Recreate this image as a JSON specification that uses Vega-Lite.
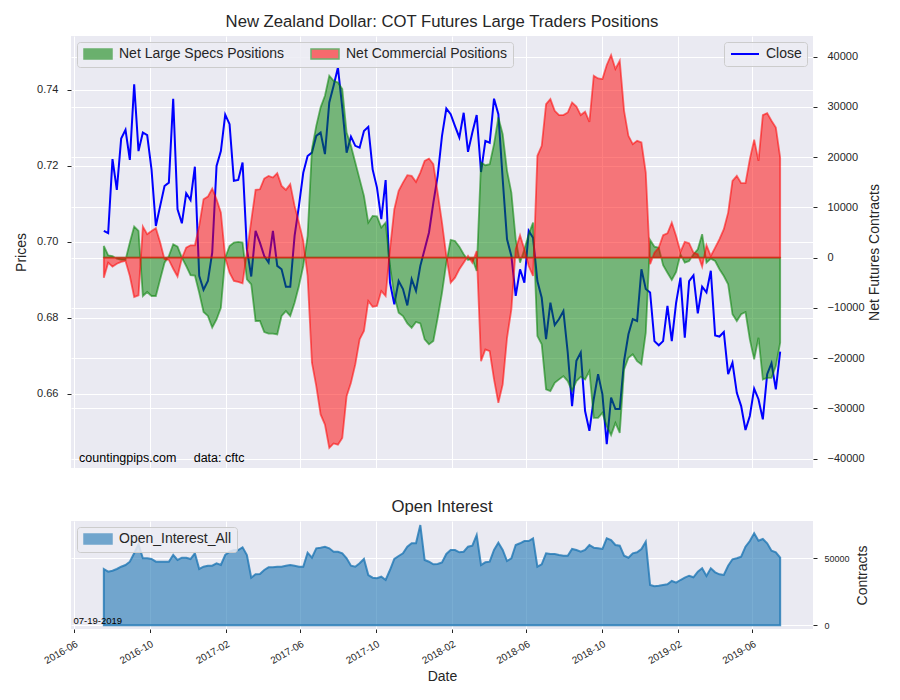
{
  "$schema": "https://vega.github.io/schema/vega-lite/v6.json",
  "background": "white",
  "padding": {"left": 14, "top": 14, "right": 10, "bottom": 10},
  "config": {
    "font": "Liberation Sans",
    "view": {"fill": "#EAEAF2", "stroke": null},
    "axis": {
      "domain": false,
      "gridColor": "#FFFFFF",
      "gridWidth": 1,
      "gridOpacity": 1,
      "tickColor": "#262626",
      "tickSize": 4,
      "labelColor": "#262626",
      "titleColor": "#262626",
      "titleFontWeight": "normal",
      "titleFontSize": 14,
      "labelFontSize": 11,
      "labelOverlap": false
    },
    "legend": {
      "title": null,
      "padding": 5,
      "fillColor": "rgba(236,236,243,0.85)",
      "strokeColor": "#cccccc",
      "cornerRadius": 3,
      "labelFontSize": 14,
      "labelColor": "#262626",
      "labelLimit": 400,
      "symbolSize": 100,
      "symbolOffset": 9,
      "labelOffset": 14
    },
    "title": {"color": "#262626", "fontWeight": "normal"}
  },
  "data": {
    "values": [
      {"date": "2016-07-19", "close": 0.7029, "specs": 2330, "comm": -3980, "oi": 41830},
      {"date": "2016-07-26", "close": 0.7023, "specs": 470, "comm": -1000, "oi": 39820},
      {"date": "2016-08-02", "close": 0.7218, "specs": 330, "comm": -1790, "oi": 40570},
      {"date": "2016-08-09", "close": 0.7137, "specs": -200, "comm": -1200, "oi": 41830},
      {"date": "2016-08-16", "close": 0.7272, "specs": -460, "comm": -860, "oi": 43540},
      {"date": "2016-08-23", "close": 0.7295, "specs": -460, "comm": -660, "oi": 44800},
      {"date": "2016-08-30", "close": 0.7216, "specs": 3000, "comm": -3650, "oi": 47260},
      {"date": "2016-09-06", "close": 0.7415, "specs": 6180, "comm": -7830, "oi": 53500},
      {"date": "2016-09-13", "close": 0.7239, "specs": 5320, "comm": -7500, "oi": 60180},
      {"date": "2016-09-20", "close": 0.7288, "specs": -7630, "comm": 6180, "oi": 49780},
      {"date": "2016-09-27", "close": 0.7281, "specs": -6830, "comm": 4660, "oi": 49780},
      {"date": "2016-10-04", "close": 0.7191, "specs": -7630, "comm": 5320, "oi": 49260},
      {"date": "2016-10-11", "close": 0.7042, "specs": -7630, "comm": 5850, "oi": 47260},
      {"date": "2016-10-18", "close": 0.7095, "specs": -4310, "comm": 3000, "oi": 47260},
      {"date": "2016-10-25", "close": 0.7147, "specs": -1000, "comm": -330, "oi": 47260},
      {"date": "2016-11-01", "close": 0.7156, "specs": 330, "comm": -460, "oi": 47260},
      {"date": "2016-11-08", "close": 0.7377, "specs": 2670, "comm": -2200, "oi": 52230},
      {"date": "2016-11-15", "close": 0.7086, "specs": 2200, "comm": -3760, "oi": 48520},
      {"date": "2016-11-22", "close": 0.7049, "specs": 0, "comm": -130, "oi": 50230},
      {"date": "2016-11-29", "close": 0.7128, "specs": -1660, "comm": 2000, "oi": 50230},
      {"date": "2016-12-06", "close": 0.711, "specs": -3500, "comm": 2460, "oi": 49260},
      {"date": "2016-12-13", "close": 0.7198, "specs": -3570, "comm": 2460, "oi": 53500},
      {"date": "2016-12-20", "close": 0.6911, "specs": -6970, "comm": 6310, "oi": 41830},
      {"date": "2016-12-27", "close": 0.6874, "specs": -10800, "comm": 11630, "oi": 43540},
      {"date": "2017-01-03", "close": 0.6897, "specs": -11600, "comm": 12150, "oi": 44280},
      {"date": "2017-01-10", "close": 0.6972, "specs": -13900, "comm": 13740, "oi": 44280},
      {"date": "2017-01-17", "close": 0.72, "specs": -12300, "comm": 11630, "oi": 46070},
      {"date": "2017-01-24", "close": 0.7239, "specs": -9960, "comm": 8960, "oi": 44800},
      {"date": "2017-01-31", "close": 0.7335, "specs": 0, "comm": 0, "oi": 52230},
      {"date": "2017-02-07", "close": 0.731, "specs": 2330, "comm": -2990, "oi": 54690},
      {"date": "2017-02-14", "close": 0.7161, "specs": 3000, "comm": -4640, "oi": 55950},
      {"date": "2017-02-21", "close": 0.7163, "specs": 3130, "comm": -4840, "oi": 55950},
      {"date": "2017-02-28", "close": 0.7209, "specs": 3000, "comm": -5100, "oi": 57950},
      {"date": "2017-03-07", "close": 0.6981, "specs": -4310, "comm": 1000, "oi": 52230},
      {"date": "2017-03-14", "close": 0.6909, "specs": -5300, "comm": 7310, "oi": 35370},
      {"date": "2017-03-21", "close": 0.7029, "specs": -12600, "comm": 13490, "oi": 37890},
      {"date": "2017-03-28", "close": 0.6998, "specs": -12600, "comm": 13600, "oi": 38120},
      {"date": "2017-04-04", "close": 0.6963, "specs": -14800, "comm": 15740, "oi": 41090},
      {"date": "2017-04-11", "close": 0.6946, "specs": -15100, "comm": 16270, "oi": 43090},
      {"date": "2017-04-18", "close": 0.7029, "specs": -15100, "comm": 15940, "oi": 43090},
      {"date": "2017-04-25", "close": 0.6937, "specs": -15260, "comm": 16800, "oi": 43540},
      {"date": "2017-05-02", "close": 0.6928, "specs": -11600, "comm": 14280, "oi": 43540},
      {"date": "2017-05-09", "close": 0.6882, "specs": -10620, "comm": 13480, "oi": 44280},
      {"date": "2017-05-16", "close": 0.6882, "specs": -11600, "comm": 14620, "oi": 44800},
      {"date": "2017-05-23", "close": 0.7016, "specs": -8960, "comm": 10300, "oi": 44280},
      {"date": "2017-05-30", "close": 0.7095, "specs": -5640, "comm": 6970, "oi": 43540},
      {"date": "2017-06-06", "close": 0.7182, "specs": -1660, "comm": 3330, "oi": 43540},
      {"date": "2017-06-13", "close": 0.7226, "specs": 4320, "comm": -3650, "oi": 53940},
      {"date": "2017-06-20", "close": 0.7235, "specs": 21600, "comm": -20900, "oi": 50230},
      {"date": "2017-06-27", "close": 0.7279, "specs": 26230, "comm": -25560, "oi": 57210},
      {"date": "2017-07-04", "close": 0.7288, "specs": 29900, "comm": -31200, "oi": 57660},
      {"date": "2017-07-11", "close": 0.7231, "specs": 32200, "comm": -33200, "oi": 58400},
      {"date": "2017-07-18", "close": 0.7367, "specs": 36200, "comm": -37850, "oi": 57210},
      {"date": "2017-07-25", "close": 0.7411, "specs": 35200, "comm": -36970, "oi": 54690},
      {"date": "2017-08-01", "close": 0.7459, "specs": 34860, "comm": -37200, "oi": 54690},
      {"date": "2017-08-08", "close": 0.7353, "specs": 33540, "comm": -35860, "oi": 53500},
      {"date": "2017-08-15", "close": 0.7235, "specs": 24900, "comm": -27550, "oi": 49780},
      {"date": "2017-08-22", "close": 0.7277, "specs": 22250, "comm": -24900, "oi": 44280},
      {"date": "2017-08-29", "close": 0.7253, "specs": 18920, "comm": -21240, "oi": 43540},
      {"date": "2017-09-05", "close": 0.7248, "specs": 15620, "comm": -16260, "oi": 46070},
      {"date": "2017-09-12", "close": 0.7292, "specs": 12290, "comm": -14600, "oi": 49260},
      {"date": "2017-09-19", "close": 0.7303, "specs": 6970, "comm": -8630, "oi": 37370},
      {"date": "2017-09-26", "close": 0.7191, "specs": 8300, "comm": -9760, "oi": 35370},
      {"date": "2017-10-03", "close": 0.7143, "specs": 8200, "comm": -9630, "oi": 34920},
      {"date": "2017-10-10", "close": 0.706, "specs": 5980, "comm": -6640, "oi": 36110},
      {"date": "2017-10-17", "close": 0.7163, "specs": 6970, "comm": -7630, "oi": 33660},
      {"date": "2017-10-24", "close": 0.6893, "specs": -1660, "comm": 1670, "oi": 41090},
      {"date": "2017-10-31", "close": 0.6836, "specs": -7630, "comm": 9640, "oi": 49260},
      {"date": "2017-11-07", "close": 0.6897, "specs": -10960, "comm": 13280, "oi": 51490},
      {"date": "2017-11-14", "close": 0.6876, "specs": -11620, "comm": 14940, "oi": 53500},
      {"date": "2017-11-21", "close": 0.6833, "specs": -13070, "comm": 16400, "oi": 58400},
      {"date": "2017-11-28", "close": 0.6902, "specs": -13950, "comm": 16270, "oi": 60930},
      {"date": "2017-12-05", "close": 0.6871, "specs": -12800, "comm": 15080, "oi": 60930},
      {"date": "2017-12-12", "close": 0.6937, "specs": -13070, "comm": 16930, "oi": 74520},
      {"date": "2017-12-19", "close": 0.6981, "specs": -16260, "comm": 19260, "oi": 48520},
      {"date": "2017-12-26", "close": 0.7025, "specs": -17250, "comm": 19720, "oi": 47260},
      {"date": "2018-01-02", "close": 0.7103, "specs": -16600, "comm": 18600, "oi": 45320},
      {"date": "2018-01-09", "close": 0.7174, "specs": -12000, "comm": 12950, "oi": 45570},
      {"date": "2018-01-16", "close": 0.7279, "specs": -7000, "comm": 6970, "oi": 46700},
      {"date": "2018-01-23", "close": 0.7351, "specs": -1000, "comm": 330, "oi": 53000},
      {"date": "2018-01-30", "close": 0.7336, "specs": 3520, "comm": -4980, "oi": 55950},
      {"date": "2018-02-06", "close": 0.7305, "specs": 3320, "comm": -3980, "oi": 55950},
      {"date": "2018-02-13", "close": 0.7275, "specs": 2190, "comm": -2310, "oi": 54240},
      {"date": "2018-02-20", "close": 0.734, "specs": 670, "comm": -1000, "oi": 54690},
      {"date": "2018-02-27", "close": 0.7237, "specs": -460, "comm": 330, "oi": 58400},
      {"date": "2018-03-06", "close": 0.7288, "specs": -200, "comm": -1000, "oi": 59140},
      {"date": "2018-03-13", "close": 0.7334, "specs": -2650, "comm": 1330, "oi": 67090},
      {"date": "2018-03-20", "close": 0.7184, "specs": 18920, "comm": -20580, "oi": 44800},
      {"date": "2018-03-27", "close": 0.7266, "specs": 18400, "comm": -18250, "oi": 46810},
      {"date": "2018-04-03", "close": 0.7261, "specs": 18600, "comm": -18600, "oi": 47260},
      {"date": "2018-04-10", "close": 0.7377, "specs": 22590, "comm": -24220, "oi": 55950},
      {"date": "2018-04-17", "close": 0.7336, "specs": 27890, "comm": -28880, "oi": 61370},
      {"date": "2018-04-24", "close": 0.7165, "specs": 24580, "comm": -25220, "oi": 55950},
      {"date": "2018-05-01", "close": 0.7007, "specs": 17270, "comm": -15940, "oi": 47770},
      {"date": "2018-05-08", "close": 0.6963, "specs": 12950, "comm": -10280, "oi": 49780},
      {"date": "2018-05-15", "close": 0.6858, "specs": 3670, "comm": 1670, "oi": 59660},
      {"date": "2018-05-22", "close": 0.6928, "specs": -1000, "comm": 4460, "oi": 60930},
      {"date": "2018-05-29", "close": 0.6893, "specs": 1670, "comm": 1670, "oi": 62630},
      {"date": "2018-06-05", "close": 0.7029, "specs": 4660, "comm": -1660, "oi": 62630},
      {"date": "2018-06-12", "close": 0.7011, "specs": 6970, "comm": -3650, "oi": 64640},
      {"date": "2018-06-19", "close": 0.6897, "specs": -15600, "comm": 20260, "oi": 43540},
      {"date": "2018-06-26", "close": 0.6853, "specs": -17250, "comm": 22250, "oi": 45320},
      {"date": "2018-07-03", "close": 0.6744, "specs": -26220, "comm": 30560, "oi": 53500},
      {"date": "2018-07-10", "close": 0.684, "specs": -26550, "comm": 31550, "oi": 52970},
      {"date": "2018-07-17", "close": 0.6781, "specs": -24900, "comm": 29220, "oi": 52970},
      {"date": "2018-07-24", "close": 0.6797, "specs": -24220, "comm": 28370, "oi": 52230},
      {"date": "2018-07-31", "close": 0.6818, "specs": -23570, "comm": 28370, "oi": 51710},
      {"date": "2018-08-07", "close": 0.6709, "specs": -24560, "comm": 28880, "oi": 51710},
      {"date": "2018-08-14", "close": 0.6568, "specs": -26550, "comm": 30880, "oi": 56690},
      {"date": "2018-08-21", "close": 0.6687, "specs": -24560, "comm": 30080, "oi": 55950},
      {"date": "2018-08-28", "close": 0.6709, "specs": -23700, "comm": 28370, "oi": 54690},
      {"date": "2018-09-04", "close": 0.6555, "specs": -24220, "comm": 29030, "oi": 55950},
      {"date": "2018-09-11", "close": 0.6503, "specs": -22570, "comm": 27030, "oi": 59660},
      {"date": "2018-09-18", "close": 0.6586, "specs": -31870, "comm": 36190, "oi": 57660},
      {"date": "2018-09-25", "close": 0.6652, "specs": -31870, "comm": 35660, "oi": 57210},
      {"date": "2018-10-02", "close": 0.6599, "specs": -30880, "comm": 35530, "oi": 56690},
      {"date": "2018-10-09", "close": 0.6468, "specs": -33530, "comm": 38330, "oi": 64640},
      {"date": "2018-10-16", "close": 0.659, "specs": -35300, "comm": 40320, "oi": 63380},
      {"date": "2018-10-23", "close": 0.656, "specs": -32870, "comm": 37530, "oi": 59660},
      {"date": "2018-10-30", "close": 0.656, "specs": -34860, "comm": 39180, "oi": 59140},
      {"date": "2018-11-06", "close": 0.6687, "specs": -22230, "comm": 29220, "oi": 51710},
      {"date": "2018-11-13", "close": 0.6757, "specs": -19920, "comm": 24240, "oi": 50230},
      {"date": "2018-11-20", "close": 0.6797, "specs": -19240, "comm": 22590, "oi": 53500},
      {"date": "2018-11-27", "close": 0.6792, "specs": -20580, "comm": 23250, "oi": 54240},
      {"date": "2018-12-04", "close": 0.6928, "specs": -21240, "comm": 22910, "oi": 56690},
      {"date": "2018-12-11", "close": 0.6876, "specs": -14940, "comm": 16930, "oi": 62110},
      {"date": "2018-12-18", "close": 0.6867, "specs": 3520, "comm": -1310, "oi": 29940},
      {"date": "2018-12-25", "close": 0.6739, "specs": 2190, "comm": 1000, "oi": 28980},
      {"date": "2019-01-01", "close": 0.6728, "specs": 1990, "comm": 1990, "oi": 29420},
      {"date": "2019-01-08", "close": 0.6739, "specs": -1510, "comm": 4460, "oi": 29940},
      {"date": "2019-01-15", "close": 0.6832, "specs": -2990, "comm": 4860, "oi": 30460},
      {"date": "2019-01-22", "close": 0.6739, "specs": -4440, "comm": 6970, "oi": 32910},
      {"date": "2019-01-29", "close": 0.684, "specs": -2850, "comm": 4320, "oi": 31650},
      {"date": "2019-02-05", "close": 0.6906, "specs": 670, "comm": 1130, "oi": 33660},
      {"date": "2019-02-12", "close": 0.6748, "specs": -1000, "comm": 3130, "oi": 35370},
      {"date": "2019-02-19", "close": 0.6897, "specs": -660, "comm": 2870, "oi": 36850},
      {"date": "2019-02-26", "close": 0.6912, "specs": 670, "comm": 1000, "oi": 35660},
      {"date": "2019-03-05", "close": 0.6812, "specs": 1670, "comm": 670, "oi": 39820},
      {"date": "2019-03-12", "close": 0.6882, "specs": 4660, "comm": -1790, "oi": 42350},
      {"date": "2019-03-19", "close": 0.6867, "specs": -1000, "comm": 2470, "oi": 36630},
      {"date": "2019-03-26", "close": 0.6924, "specs": -200, "comm": 330, "oi": 42350},
      {"date": "2019-04-02", "close": 0.6754, "specs": -660, "comm": 1990, "oi": 39380},
      {"date": "2019-04-09", "close": 0.6751, "specs": -2310, "comm": 3670, "oi": 37890},
      {"date": "2019-04-16", "close": 0.6763, "specs": -3650, "comm": 5660, "oi": 37370},
      {"date": "2019-04-23", "close": 0.6652, "specs": -5300, "comm": 8960, "oi": 44280},
      {"date": "2019-04-30", "close": 0.6682, "specs": -11270, "comm": 15280, "oi": 49040},
      {"date": "2019-05-07", "close": 0.6603, "specs": -12610, "comm": 16270, "oi": 49780},
      {"date": "2019-05-14", "close": 0.6568, "specs": -11270, "comm": 14820, "oi": 50970},
      {"date": "2019-05-21", "close": 0.6505, "specs": -10820, "comm": 14820, "oi": 58400},
      {"date": "2019-05-28", "close": 0.6542, "specs": -16260, "comm": 19600, "oi": 62630},
      {"date": "2019-06-04", "close": 0.6614, "specs": -20240, "comm": 23450, "oi": 68360},
      {"date": "2019-06-11", "close": 0.6586, "specs": -15940, "comm": 19260, "oi": 62860},
      {"date": "2019-06-18", "close": 0.6533, "specs": -24220, "comm": 28370, "oi": 64120},
      {"date": "2019-06-25", "close": 0.6652, "specs": -23900, "comm": 28760, "oi": 60930},
      {"date": "2019-07-02", "close": 0.6681, "specs": -23900, "comm": 27230, "oi": 55430},
      {"date": "2019-07-09", "close": 0.6612, "specs": -21570, "comm": 25900, "oi": 54240},
      {"date": "2019-07-16", "close": 0.6711, "specs": -16930, "comm": 19920, "oi": 50230}
    ]
  },
  "spacing": 31,
  "resolve": {"scale": {"color": "independent"}, "legend": {"color": "independent"}},
  "vconcat": [
    {
      "width": 742,
      "height": 432,
      "title": {
        "text": "New Zealand Dollar: COT Futures Large Traders Positions",
        "fontSize": 16.7,
        "offset": 5,
        "frame": "group",
        "anchor": "middle"
      },
      "layer": [
        {
          "mark": {"type": "line", "strokeWidth": 2},
          "encoding": {
            "x": {
              "field": "date",
              "type": "temporal",
              "scale": {
                "type": "utc",
                "domain": [
                  {"year": 2016, "month": 5, "date": 27, "utc": true},
                  {"year": 2019, "month": 9, "date": 7, "utc": true}
                ]
              },
              "axis": {
                "values": [
                  {"year": 2016, "month": 6, "date": 1, "utc": true},
                  {"year": 2016, "month": 10, "date": 1, "utc": true},
                  {"year": 2017, "month": 2, "date": 1, "utc": true},
                  {"year": 2017, "month": 6, "date": 1, "utc": true},
                  {"year": 2017, "month": 10, "date": 1, "utc": true},
                  {"year": 2018, "month": 2, "date": 1, "utc": true},
                  {"year": 2018, "month": 6, "date": 1, "utc": true},
                  {"year": 2018, "month": 10, "date": 1, "utc": true},
                  {"year": 2019, "month": 2, "date": 1, "utc": true},
                  {"year": 2019, "month": 6, "date": 1, "utc": true}
                ],
                "labels": false,
                "ticks": false,
                "title": null,
                "grid": true
              }
            },
            "y": {
              "field": "close",
              "type": "quantitative",
              "scale": {"domain": [0.6405, 0.7542], "nice": false, "zero": false},
              "axis": {
                "orient": "left",
                "title": "Prices",
                "values": [0.66, 0.68, 0.7, 0.72, 0.74],
                "format": ".2f",
                "grid": true,
                "tickSize": 4,
                "labelPadding": 9,
                "titlePadding": 8
              }
            },
            "color": {
              "datum": "Close",
              "type": "nominal",
              "scale": {"range": ["blue"]},
              "legend": {
                "orient": "top-right",
                "offset": 6,
                "symbolType": "M-2.8,0H2.8",
                "symbolStrokeWidth": 2
              }
            }
          }
        },
        {
          "layer": [
            {
              "mark": {"type": "area", "fillOpacity": 0.5, "stroke": "green", "strokeOpacity": 0.55, "strokeWidth": 1.8},
              "encoding": {
                "x": {"field": "date", "type": "temporal"},
                "y": {
                  "field": "specs",
                  "type": "quantitative",
                  "stack": null,
                  "scale": {"domain": [-41850, 44100], "nice": false, "zero": false},
                  "axis": {
                    "orient": "right",
                    "title": "Net Futures Contracts",
                    "values": [-40000, -30000, -20000, -10000, 0, 10000, 20000, 30000, 40000],
                    "format": "d",
                    "grid": true,
                    "tickSize": 4,
                    "labelPadding": 10,
                    "titlePadding": 3,
                    "titleAngle": 270,
                    "titleBaseline": "top"
                  }
                },
                "y2": {"datum": 0},
                "color": {
                  "datum": "Net Large Specs Positions",
                  "type": "nominal",
                  "scale": {
                    "domain": ["Net Large Specs Positions", "Net Commercial Positions"],
                    "range": ["green", "red"]
                  },
                  "legend": {
                    "orient": "top-left",
                    "direction": "horizontal",
                    "offset": 6,
                    "symbolType": "M-2.8,-1H2.8V1H-2.8Z",
                    "symbolOpacity": 0.55,
                    "columnPadding": 24
                  }
                }
              }
            },
            {
              "mark": {"type": "area", "fillOpacity": 0.5, "stroke": "red", "strokeOpacity": 0.55, "strokeWidth": 1.8},
              "encoding": {
                "x": {"field": "date", "type": "temporal"},
                "y": {"field": "comm", "type": "quantitative", "stack": null},
                "y2": {"datum": 0},
                "color": {"datum": "Net Commercial Positions", "type": "nominal"}
              }
            },
            {
              "data": {"values": [{"note": "countingpips.com\u00a0\u00a0\u00a0\u00a0\u00a0data: cftc"}]},
              "mark": {"type": "text", "align": "left", "baseline": "alphabetic", "fontSize": 12.5, "color": "black"},
              "encoding": {
                "x": {"datum": {"year": 2016, "month": 6, "date": 9, "utc": true}, "type": "temporal"},
                "y": {"datum": -40700, "type": "quantitative"},
                "text": {"field": "note", "type": "nominal"}
              }
            }
          ]
        }
      ],
      "resolve": {"scale": {"y": "independent", "color": "independent"}}
    },
    {
      "width": 742,
      "height": 108,
      "title": {
        "text": "Open Interest",
        "fontSize": 16.7,
        "offset": 5,
        "frame": "group",
        "anchor": "middle"
      },
      "layer": [
        {
          "mark": {"type": "area", "fillOpacity": 0.6, "stroke": "#1f77b4", "strokeOpacity": 0.8, "strokeWidth": 2},
          "encoding": {
            "x": {
              "field": "date",
              "type": "temporal",
              "scale": {
                "type": "utc",
                "domain": [
                  {"year": 2016, "month": 5, "date": 27, "utc": true},
                  {"year": 2019, "month": 9, "date": 7, "utc": true}
                ]
              },
              "axis": {
                "values": [
                  {"year": 2016, "month": 6, "date": 1, "utc": true},
                  {"year": 2016, "month": 10, "date": 1, "utc": true},
                  {"year": 2017, "month": 2, "date": 1, "utc": true},
                  {"year": 2017, "month": 6, "date": 1, "utc": true},
                  {"year": 2017, "month": 10, "date": 1, "utc": true},
                  {"year": 2018, "month": 2, "date": 1, "utc": true},
                  {"year": 2018, "month": 6, "date": 1, "utc": true},
                  {"year": 2018, "month": 10, "date": 1, "utc": true},
                  {"year": 2019, "month": 2, "date": 1, "utc": true},
                  {"year": 2019, "month": 6, "date": 1, "utc": true}
                ],
                "format": "%Y-%m",
                "labelAngle": -30,
                "labelAlign": "right",
                "labelBaseline": "top",
                "labelFontSize": 10,
                "labelPadding": 6,
                "tickSize": 3.5,
                "title": "Date",
                "titlePadding": 4,
                "grid": true
              }
            },
            "y": {
              "field": "oi",
              "type": "quantitative",
              "stack": null,
              "scale": {"domain": [-2750, 77500], "nice": false, "zero": false},
              "axis": {
                "orient": "right",
                "title": "Contracts",
                "values": [0, 50000],
                "format": "d",
                "grid": true,
                "tickSize": 4,
                "labelFontSize": 9,
                "labelPadding": 7,
                "titlePadding": 6,
                "titleAngle": 270,
                "titleBaseline": "top"
              }
            },
            "y2": {"datum": 0},
            "color": {
              "datum": "Open_Interest_All",
              "type": "nominal",
              "scale": {"range": ["#1f77b4"]},
              "legend": {
                "orient": "top-left",
                "offset": 6,
                "symbolType": "M-2.8,-1H2.8V1H-2.8Z",
                "symbolOpacity": 0.6
              }
            }
          }
        },
        {
          "data": {"values": [{"note": "07-19-2019"}]},
          "mark": {"type": "text", "align": "left", "baseline": "alphabetic", "fontSize": 9.5, "color": "black"},
          "encoding": {
            "x": {"datum": {"year": 2016, "month": 5, "date": 31, "utc": true}, "type": "temporal"},
            "y": {"datum": 1000, "type": "quantitative"},
            "text": {"field": "note", "type": "nominal"}
          }
        }
      ]
    }
  ]
}
